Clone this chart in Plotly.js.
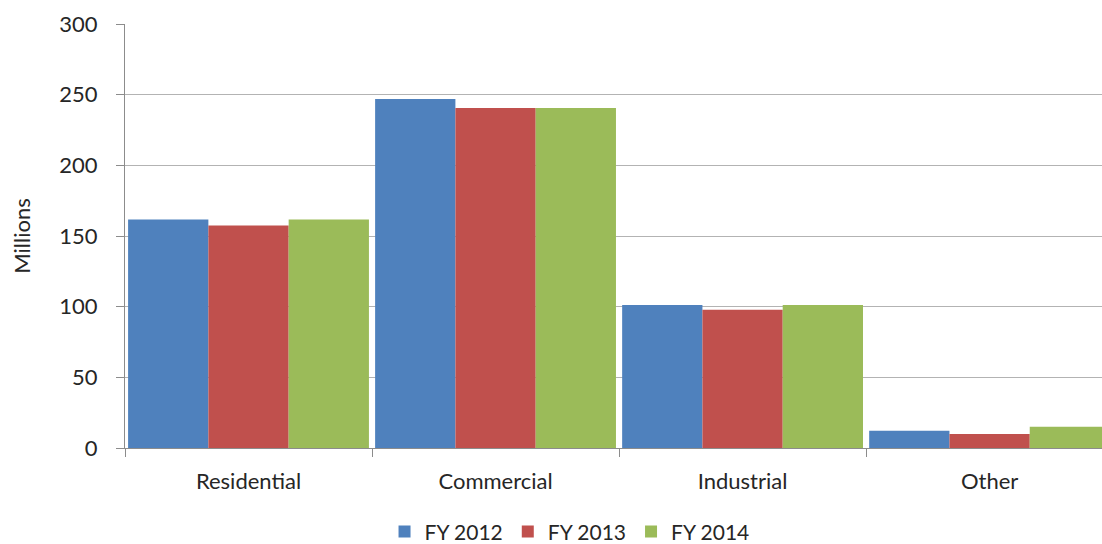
<!DOCTYPE html>
<html>
<head>
<meta charset="utf-8">
<script src="https://cdn.plot.ly/plotly-3.0.1.min.js"></script>
<style>html,body{margin:0;padding:0;background:#fff;}#chart{width:1102px;height:544px;}</style>
</head>
<body>
<div id="chart"></div>
<script>
const categories = ["Residential", "Commercial", "Industrial", "Other"];
const seriesNames = ["FY 2012", "FY 2013", "FY 2014"];
const fy2012 = [161.6, 247.0, 101.1, 12.2];
const fy2013 = [157.4, 240.6, 97.8, 9.9];
const fy2014 = [161.6, 240.6, 101.1, 15.0];
const yTicks = [0, 50, 100, 150, 200, 250, 300];
const colors = ["#4F81BD", "#C0504D", "#9BBB59"];

const values = [fy2012, fy2013, fy2014];
const traces = values.map((v, i) => ({
  type: "bar",
  name: seriesNames[i],
  x: categories,
  y: v,
  marker: {color: colors[i], line: {width: 0}},
  hoverinfo: "none"
}));

const fam = "Lato, 'Open Sans', sans-serif";
const txt = "#262626";

const layout = {
  width: 1102, height: 544,
  margin: {l: 125, r: 0, t: 24, b: 96, autoexpand: false},
  paper_bgcolor: "#fff", plot_bgcolor: "#fff",
  font: {family: fam, size: 22, color: txt},
  barmode: "group",
  bargap: 0.025,
  bargroupgap: 0,
  showlegend: true,
  legend: {
    orientation: "h", x: 0.455, xanchor: "center", y: -0.198, yanchor: "middle",
    font: {family: fam, size: 21, color: txt},
    tracegroupgap: 0,
    traceorder: "normal"
  },
  xaxis: {
    type: "category",
    range: [-0.5, 3.455],
    showgrid: false,
    showline: true, linecolor: "#8c8c8c", linewidth: 1,
    ticks: "outside", tickson: "boundaries", ticklen: 8, tickcolor: "#8c8c8c",
    tickfont: {family: fam, size: 22, color: txt},
    ticklabelstandoff: 14,
    automargin: false,
    fixedrange: true
  },
  yaxis: {
    range: [0, 300],
    tickvals: yTicks,
    ticktext: yTicks.map(String),
    showgrid: true, gridcolor: "#b3b3b3", gridwidth: 1,
    showline: true, linecolor: "#8c8c8c", linewidth: 1,
    ticks: "outside", ticklen: 8, tickcolor: "#8c8c8c",
    tickfont: {family: fam, size: 22, color: txt},
    ticklabelstandoff: 14,
    zeroline: false,
    title: {text: "Millions", font: {family: fam, size: 22, color: txt}, standoff: 22},
    automargin: false,
    fixedrange: true
  }
};

Plotly.newPlot("chart", traces, layout, {displayModeBar: false, staticPlot: true});
</script>
</body>
</html>
